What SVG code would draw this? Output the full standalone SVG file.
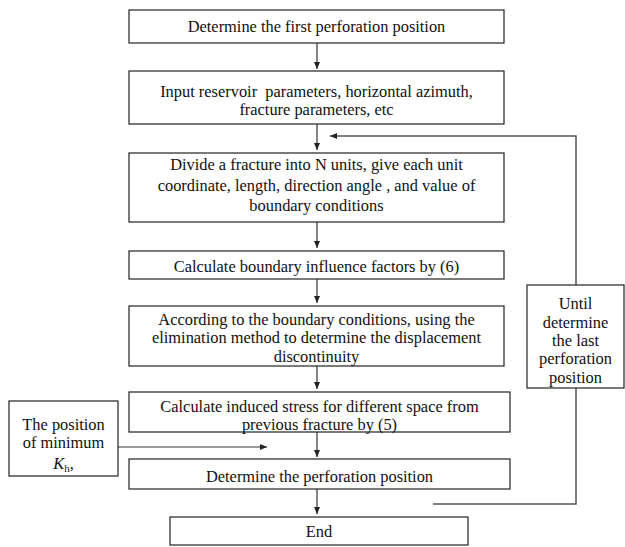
<svg xmlns="http://www.w3.org/2000/svg" width="625" height="547" viewBox="0 0 625 547">
<defs>
<marker id="ah" markerUnits="userSpaceOnUse" markerWidth="7" markerHeight="6" refX="7" refY="3" orient="auto">
<path d="M0,0 L7,3 L0,6 z" fill="#222"/>
</marker>
<style>
.box{fill:#fff;stroke:#222;stroke-width:1.2}
.t{font-family:'Liberation Serif','DejaVu Serif',serif;font-size:16.4px;fill:#111;text-anchor:middle}
.c{fill:none;stroke:#333;stroke-width:1.2}
.fb{fill:none;stroke:#555;stroke-width:1.5}
</style>
</defs>
<rect width="625" height="547" fill="#fff"/>
<g id="connectors">
<line class="c" x1="317" y1="43" x2="317" y2="69" marker-end="url(#ah)"/>
<line class="c" x1="317" y1="124" x2="317" y2="150" marker-end="url(#ah)"/>
<line class="c" x1="317" y1="222" x2="317" y2="248" marker-end="url(#ah)"/>
<line class="c" x1="317" y1="279" x2="317" y2="303" marker-end="url(#ah)"/>
<line class="c" x1="317" y1="366" x2="317" y2="389" marker-end="url(#ah)"/>
<line class="c" x1="317" y1="432" x2="317" y2="457" marker-end="url(#ah)"/>
<line class="c" x1="317" y1="489" x2="317" y2="514" marker-end="url(#ah)"/>
<line class="c" x1="118" y1="447" x2="267" y2="447" marker-end="url(#ah)"/>
<polyline class="fb" points="576,285 576,136 330,136" marker-end="url(#ah)"/>
<polyline class="fb" points="576,388 576,504 433,504"/>
</g>
<g id="n1"><rect class="box" x="129" y="10" width="375" height="33"/>
<text class="t" font-family="Liberation Serif, serif" x="316.5" y="32">Determine the first perforation position</text></g>
<g id="n2"><rect class="box" x="129" y="71" width="375" height="53"/>
<text class="t" x="316.5" y="97" xml:space="preserve">Input reservoir  parameters, horizontal azimuth,</text>
<text class="t" x="316.5" y="115">fracture parameters, etc</text></g>
<g id="n3"><rect class="box" x="129" y="153" width="375" height="69"/>
<text class="t" x="316.5" y="170">Divide a fracture into N units, give each unit</text>
<text class="t" x="316.5" y="191">coordinate, length, direction angle , and value of</text>
<text class="t" x="316.5" y="211">boundary conditions</text></g>
<g id="n4"><rect class="box" x="129" y="251" width="375" height="28"/>
<text class="t" x="316.5" y="272">Calculate boundary influence factors by (6)</text></g>
<g id="n5"><rect class="box" x="129" y="306" width="375" height="60"/>
<text class="t" x="316.5" y="325">According to the boundary conditions, using the</text>
<text class="t" x="316.5" y="343">elimination method to determine the displacement</text>
<text class="t" x="316.5" y="362">discontinuity</text></g>
<g id="n6"><rect class="box" x="129" y="392" width="381" height="40"/>
<text class="t" x="319.5" y="412">Calculate induced stress for different space from</text>
<text class="t" x="319.5" y="430">previous fracture by (5)</text></g>
<g id="n7"><rect class="box" x="129" y="459" width="381" height="30"/>
<text class="t" x="319.5" y="482">Determine the perforation position</text></g>
<g id="n8"><rect class="box" x="170" y="517" width="298" height="28"/>
<text class="t" x="319" y="537">End</text></g>
<g id="n9"><rect class="box" x="9" y="401" width="109" height="75"/>
<text class="t" x="63.5" y="430">The position</text>
<text class="t" x="63.5" y="448">of minimum</text>
<text class="t" x="63.5" y="469"><tspan font-style="italic">K</tspan><tspan font-size="11" dy="3">h</tspan><tspan dy="-3">,</tspan></text></g>
<g id="n10"><rect class="box" x="527" y="285" width="97" height="103"/>
<text class="t" x="575.5" y="309">Until</text>
<text class="t" x="575.5" y="328">determine</text>
<text class="t" x="575.5" y="346">the last</text>
<text class="t" x="575.5" y="364">perforation</text>
<text class="t" x="575.5" y="383">position</text></g>
</svg>
